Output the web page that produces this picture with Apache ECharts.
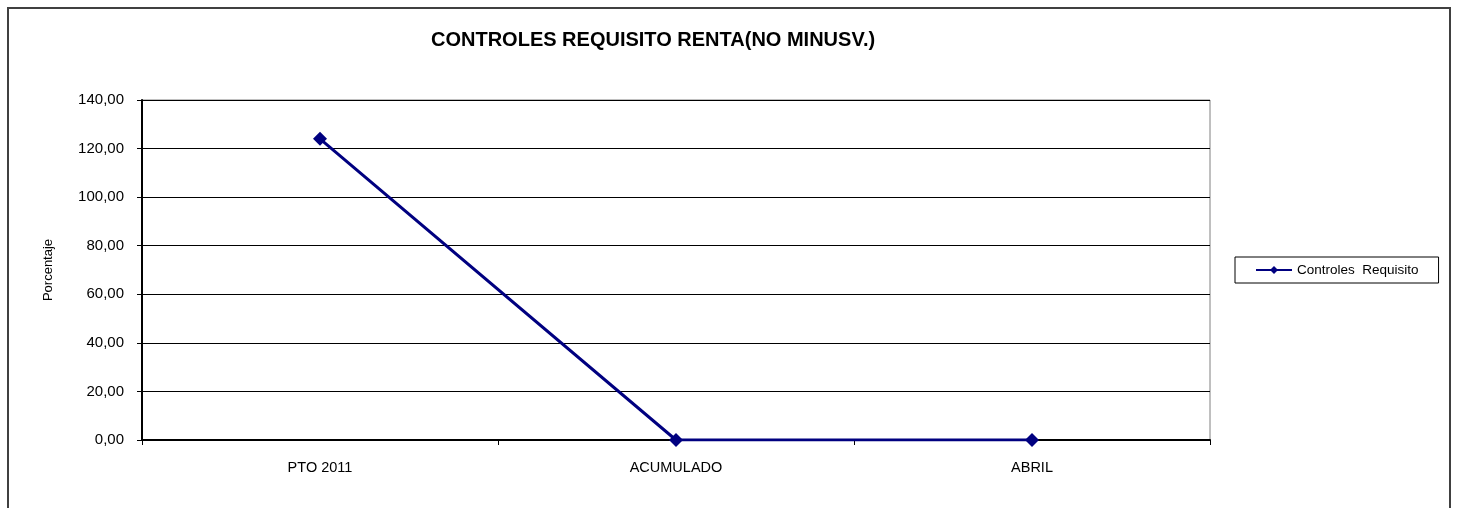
<!DOCTYPE html>
<html>
<head>
<meta charset="utf-8">
<style>
  html, body { margin: 0; padding: 0; background: #fff; }
  #chart { width: 1459px; height: 508px; }
</style>
<script src="https://cdn.jsdelivr.net/npm/echarts@6/dist/echarts.min.js"></script>
</head>
<body>
<div id="chart"></div>
<script>
const categories = ["PTO 2011", "ACUMULADO", "ABRIL"];
const controlesRequisito = [124, 0, 0];
const seriesName = "Controles  Requisito";
const chartTitle = "CONTROLES REQUISITO RENTA(NO MINUSV.)";
const yAxisName = "Porcentaje";

const FONT = "'Liberation Sans', Arial, sans-serif";
const LINE_COLOR = "#000080";

const chart = echarts.init(document.getElementById("chart"), null, { renderer: "canvas" });

chart.setOption({
  animation: false,
  backgroundColor: "#fff",
  textStyle: { fontFamily: FONT },
  graphic: [
    {
      // outer frame of the chart area
      type: "rect",
      shape: { x: 8, y: 8, width: 1442, height: 520 },
      style: { fill: "none", stroke: "#404040", lineWidth: 2 },
      silent: true,
    },
  ],
  title: {
    text: chartTitle,
    left: 426,
    top: 25,
    textStyle: { fontFamily: FONT, fontSize: 20, fontWeight: "bold", color: "#000" },
  },
  legend: {
    orient: "vertical",
    left: 1235,
    top: 257,
    padding: [6, 20, 6, 20],
    borderColor: "#000",
    borderWidth: 1,
    itemWidth: 36,
    itemHeight: 10,
    itemGap: 0,
    textStyle: { fontFamily: FONT, fontSize: 13.5, color: "#000" },
    data: [seriesName],
  },
  grid: {
    left: 142,
    top: 100,
    right: 249,
    bottom: 68,
    show: true,
    borderColor: "#808080",
    borderWidth: 1,
    outerBoundsMode: "none",
  },
  xAxis: {
    type: "category",
    data: categories,
    boundaryGap: true,
    axisLine: { show: true, lineStyle: { color: "#000", width: 2 } },
    axisTick: { show: true, length: 5, alignWithLabel: false, lineStyle: { color: "#000", width: 1 } },
    axisLabel: { color: "#000", fontSize: 14.5, margin: 20, fontFamily: FONT },
    splitLine: { show: false },
  },
  yAxis: {
    type: "value",
    min: 0,
    max: 140,
    interval: 20,
    name: yAxisName,
    nameLocation: "middle",
    nameGap: 87,
    nameTextStyle: { color: "#000", fontSize: 13, fontFamily: FONT },
    axisLine: { show: true, lineStyle: { color: "#000", width: 2 } },
    axisTick: { show: true, length: 5, lineStyle: { color: "#000", width: 1 } },
    axisLabel: {
      color: "#000",
      fontSize: 15,
      margin: 18,
      fontFamily: FONT,
      formatter: (v) => v.toFixed(2).replace(".", ","),
    },
    splitLine: { show: true, lineStyle: { color: "#000", width: 1 } },
  },
  series: [
    {
      name: seriesName,
      type: "line",
      data: controlesRequisito,
      symbol: "diamond",
      symbolSize: 14,
      lineStyle: { color: LINE_COLOR, width: 3 },
      itemStyle: { color: LINE_COLOR },
    },
  ],
});
</script>
</body>
</html>
